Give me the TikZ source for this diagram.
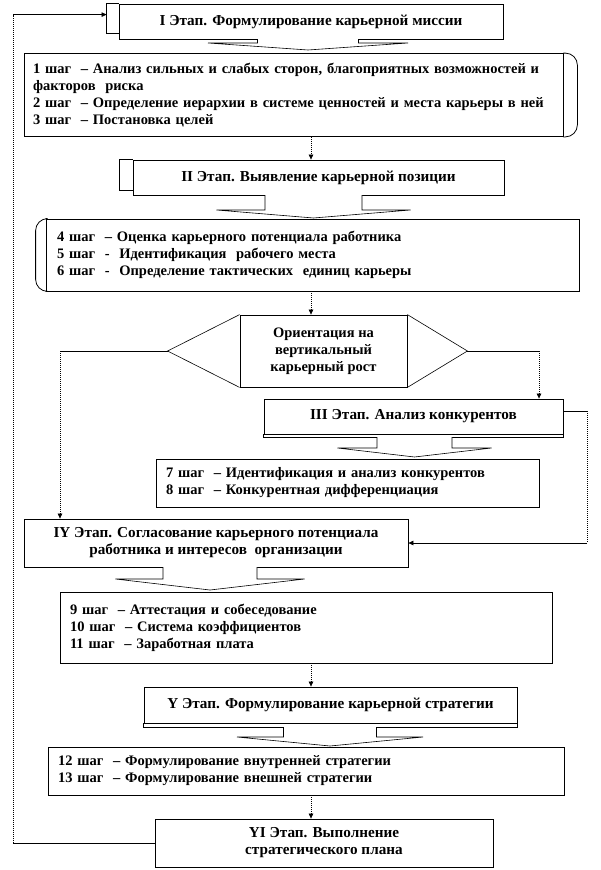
\documentclass[tikz,border=0pt]{standalone}
\usepackage{fontspec}
\setmainfont{Liberation Serif}
\usetikzlibrary{arrows.meta}

\tikzset{
  box/.style={line width=0.8pt},
  stage/.style={box, draw, fill=white, align=center, inner sep=0pt,
    font=\fontsize{15.2}{17}\selectfont\bfseries},
  choice/.style={box, draw, fill=white, align=center, inner sep=0pt},
  steps/.style={box, draw, fill=white, align=left, inner ysep=0pt},
  link/.style={line width=0.6pt},
  vlink/.style={line width=0.7pt, dash pattern=on 1pt off 1pt},
  tip/.style={-{Triangle[length=5pt,width=4.5pt]}},
}

% down-arrow under a stage box: centre, stem half, base half, stem, head
\newcommand{\downcall}[5]{%
  \coordinate (dc) at #1;
  \draw[line width=0.6pt, fill=white] ([xshift=-#2]dc) -- ++(0,#4) -- ++(-#3+#2,0)
    -- ++(#3,#5) -- ++(#3,-#5) -- ++(-#3+#2,0) -- ++(0,-#4);}

\begin{document}
\begin{tikzpicture}[x=1pt,y=-1pt,
  font=\fontsize{14.5}{17}\selectfont\bfseries]
  \useasboundingbox (0,0) rectangle (600,870);

  % Stage I
  \node[stage, minimum width=384pt, minimum height=35pt] (st1) at (311,21.5)
    {I Этап. Формулирование карьерной миссии};
  \draw[box] (st1.north west) -- ++(-12,0) -- ++(0,30) -- ++(12,0);
  \coordinate (st1in) at ([shift={(-12,11)}]st1.north west);
  \downcall{(308,39)}{50.5}{100}{4}{7}

  % steps 1-3
  \node[steps, text width=521pt, inner xsep=9pt, minimum height=83pt] (sh1) at (293.5,95)
    {1 шаг ~– Анализ сильных и слабых сторон, благоприятных возможностей и\\
     факторов ~риска\\
     2 шаг ~– Определение иерархии в системе ценностей и места карьеры в ней\\
     3 шаг ~– Постановка целей};
  \draw[box, rounded corners=12pt] (sh1.north east) -- ++(14,0) |- (sh1.south east);

  % Stage II
  \node[stage, minimum width=371pt, minimum height=35pt] (st2) at (318.5,177.5)
    {II Этап. Выявление карьерной позиции};
  \draw[box] (st2.north west) -- ++(-13,0) -- ++(0,31) -- ++(13,0);
  \downcall{(313.5,195)}{48.5}{97}{15}{8}

  % steps 4-6
  \node[steps, text width=511pt, inner xsep=11pt, minimum height=72pt] (sh2) at (312.5,255)
    {4 шаг ~– Оценка карьерного потенциала работника\\
     5 шаг ~- ~Идентификация ~рабочего места\\
     6 шаг ~- ~Определение тактических ~единиц карьеры};
  \draw[box, rounded corners=12pt] (sh2.north west) -- ++(-10,0) |- (sh2.south west);

  % vertical growth
  \node[choice, minimum width=167pt, minimum height=72pt] (hx) at (323.5,351)
    {Ориентация на\\вертикальный\\карьерный рост};
  \coordinate (hxl) at ([xshift=-72pt]hx.west);
  \coordinate (hxr) at ([xshift=60pt]hx.east);
  \draw[link] (hx.north west) -- (hxl) -- (hx.south west);
  \draw[link] (hx.north east) -- (hxr) -- (hx.south east);

  % Stage III
  \node[stage, minimum width=299pt, minimum height=35pt] (st3) at (413.5,416.5)
    {III Этап. Анализ конкурентов};
  \draw[box] (st3.south west) -- ++(0,3) -| (st3.south east);
  \downcall{(414.5,437)}{37.5}{77}{11}{9}

  % steps 7-8
  \node[steps, text width=363pt, inner xsep=10pt, minimum height=48pt] (sh3) at (347.5,483)
    {7 шаг ~– Идентификация и анализ конкурентов\\
     8 шаг ~– Конкурентная дифференциация};

  % Stage IY
  \node[stage, minimum width=384pt, minimum height=48pt] (st4) at (216,543)
    {IY Этап. Согласование карьерного потенциала\\работника и интересов ~организации};
  \downcall{(210,567)}{47}{94.5}{12}{11}

  % steps 9-11
  \node[steps, text width=472pt, inner xsep=10pt, minimum height=71pt] (sh4) at (306,627.5)
    {9 шаг ~– Аттестация и собеседование\\
     10 шаг ~– Система коэффициентов\\
     11 шаг ~– Заработная плата};

  % Stage Y
  \node[stage, minimum width=373pt, minimum height=36pt] (st5) at (330.5,705)
    {Y Этап. Формулирование карьерной стратегии};
  \draw[box] (st5.south west) -- ++(0,4) -| (st5.south east);
  \downcall{(330,727)}{46.5}{93}{10}{9}

  % steps 12-13
  \node[steps, text width=496pt, inner xsep=10pt, minimum height=48pt] (sh5) at (306,771)
    {12 шаг ~– Формулирование внутренней стратегии\\
     13 шаг ~– Формулирование внешней стратегии};

  % Stage YI
  \node[stage, minimum width=338pt, minimum height=48pt] (st6) at (324,843)
    {YI Этап. Выполнение\\стратегического плана};

  % main line down the middle
  \coordinate (mid) at (311,0);
  \draw[vlink,tip] (sh1.south -| mid) -- (st2.north -| mid);
  \draw[vlink,tip] (sh2.south -| mid) -- (hx.north -| mid);
  \draw[vlink,tip] (sh4.south -| mid) -- (st5.north -| mid);
  \draw[vlink,tip] (sh5.south -| mid) -- (st6.north -| mid);

  % branches of the hexagon
  \coordinate (lcol) at (60,0);
  \coordinate (rcol) at (539,0);
  \draw[link] (hxl) -- (hxl -| lcol);
  \draw[vlink,tip] (hxl -| lcol) -- (st4.north -| lcol);
  \draw[link] (hxr) -- (hxr -| rcol);
  \draw[vlink,tip] (hxr -| rcol) -- (st3.north -| rcol);

  % Stage III back to Stage IY
  \coordinate (ecol) at (587,0);
  \coordinate (st3out) at ([yshift=5.5pt]st3.east);
  \draw[link] (st3out) -- (st3out -| ecol);
  \draw[vlink] (st3out -| ecol) -- (st4.east -| ecol);
  \draw[link,tip] (st4.east -| ecol) -- (st4.east);

  % feedback to Stage I
  \coordinate (fcol) at (13,0);
  \draw[link] (st6.west) -- (st6.west -| fcol);
  \draw[vlink] (st6.west -| fcol) -- (st1in -| fcol);
  \draw[link,tip] (st1in -| fcol) -- (st1in);
\end{tikzpicture}
\end{document}
